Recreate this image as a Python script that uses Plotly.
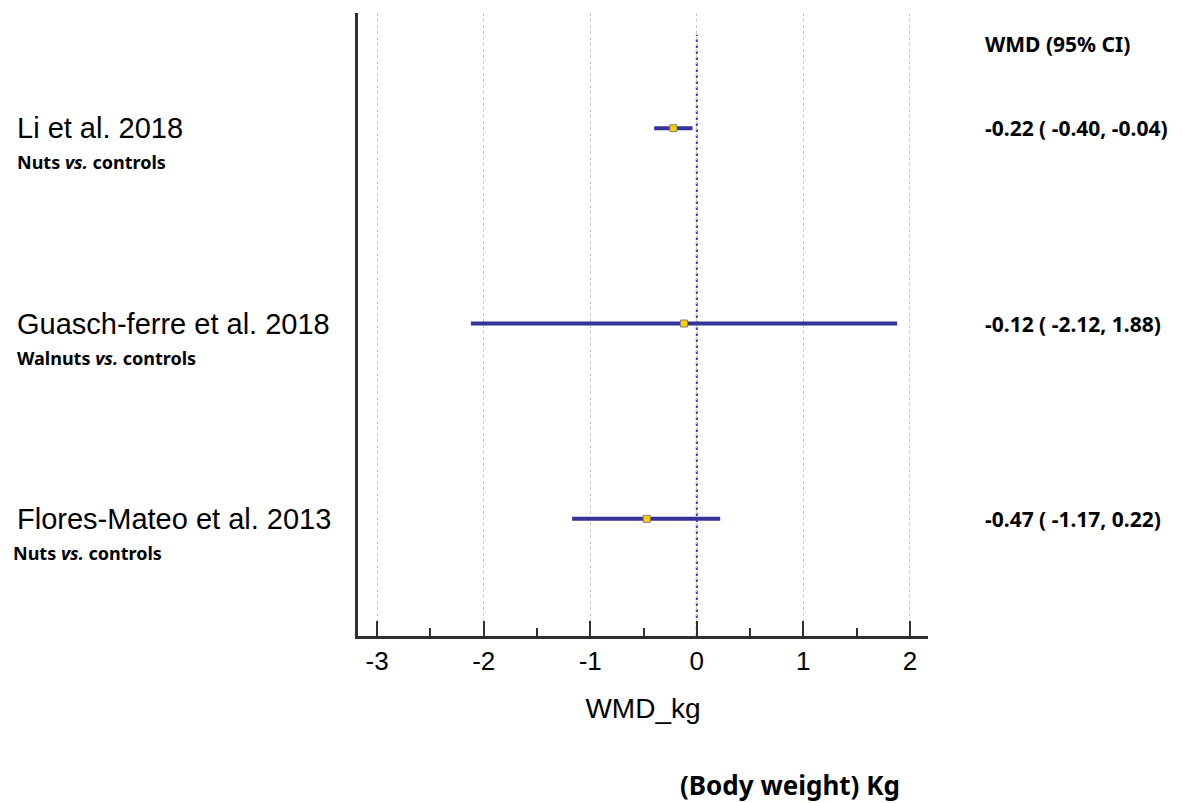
import plotly.graph_objects as go

# Study estimates (weighted mean difference, kg) with 95% confidence limits
studies = ["Li et al. 2018", "Guasch-ferre et al. 2018", "Flores-Mateo et al. 2013"]
comparisons = ["Nuts <i>vs.</i> controls", "Walnuts <i>vs.</i> controls", "Nuts <i>vs.</i> controls"]
wmd = [-0.22, -0.12, -0.47]
ci_low = [-0.40, -2.12, -1.17]
ci_high = [-0.04, 1.88, 0.22]
rows = [3, 2, 1]
x_ticks = [-3, -2, -1, 0, 1, 2]

NAVY = "#333399"
BOLD_FONT = "Noto Sans"

fig = go.Figure()

fig.add_trace(go.Scatter(
    x=wmd,
    y=rows,
    mode="markers",
    marker=dict(symbol="square", size=7, color="#FFCC00",
                line=dict(color="#7f7f7f", width=1)),
    error_x=dict(
        type="data",
        symmetric=False,
        array=[h - m for h, m in zip(ci_high, wmd)],
        arrayminus=[m - l for m, l in zip(wmd, ci_low)],
        color=NAVY,
        thickness=4,
        width=0,
    ),
    showlegend=False,
    hoverinfo="skip",
))

# vertical reference line at no effect
fig.add_shape(type="line", xref="x", yref="paper", x0=0, x1=0, y0=0, y1=0.965,
              line=dict(color="#3a3ad0", width=2, dash="dot"), layer="below")

annotations = []
for name, comp, r, m, lo, hi in zip(studies, comparisons, rows, wmd, ci_low, ci_high):
    annotations.append(dict(
        text=name, xref="paper", yref="y", x=-0.602, y=r, xanchor="left", yanchor="middle",
        showarrow=False, font=dict(family="Liberation Sans, Arial", size=29, color="black")))
    annotations.append(dict(
        text="<b>" + comp + "</b>", xref="paper", yref="y", x=-0.602 if r != 1 else -0.609,
        y=r, yshift=-34, xanchor="left", yanchor="middle",
        showarrow=False, font=dict(family=BOLD_FONT, size=18, color="black")))
    annotations.append(dict(
        text="<b>%.2f ( %.2f, %.2f)</b>" % (m, lo, hi), xref="paper", yref="y", x=1.097, y=r,
        xanchor="left", yanchor="middle",
        showarrow=False, font=dict(family=BOLD_FONT, size=21, color="black")))

annotations.append(dict(
    text="<b>WMD (95% CI)</b>", xref="paper", yref="paper", x=1.097, y=0.95,
    xanchor="left", yanchor="middle", showarrow=False,
    font=dict(family=BOLD_FONT, size=21, color="black")))
annotations.append(dict(
    text="<b>(Body weight) Kg</b>", xref="paper", yref="paper", x=0.758, y=-0.239,
    xanchor="center", yanchor="middle", showarrow=False,
    font=dict(family=BOLD_FONT, size=26, color="black")))

fig.update_layout(
    width=1182,
    height=803,
    margin=dict(l=358, r=254, t=13, b=167),
    paper_bgcolor="white",
    plot_bgcolor="white",
    annotations=annotations,
    xaxis=dict(
        range=[-3.18, 2.17],
        tickvals=x_ticks,
        ticktext=[str(v) for v in x_ticks],
        ticks="inside",
        ticklen=15,
        tickwidth=2,
        tickcolor="#303030",
        showline=True,
        linecolor="#303030",
        linewidth=3,
        showgrid=True,
        gridcolor="#c8c8c8",
        griddash="dot",
        gridwidth=1,
        zeroline=False,
        tickfont=dict(family="Liberation Sans, Arial", size=26, color="black"),
        title=dict(text="WMD_kg", standoff=24,
                   font=dict(family="Liberation Sans, Arial", size=28, color="black")),
        minor=dict(ticks="inside", ticklen=8, tickwidth=2, tickcolor="#303030",
                   dtick=0.5, tick0=0, showgrid=False),
    ),
    yaxis=dict(
        range=[0.40, 3.59],
        showticklabels=False,
        ticks="",
        showgrid=False,
        zeroline=False,
        showline=True,
        linecolor="#303030",
        linewidth=3,
    ),
)

fig.write_html("out.html")
